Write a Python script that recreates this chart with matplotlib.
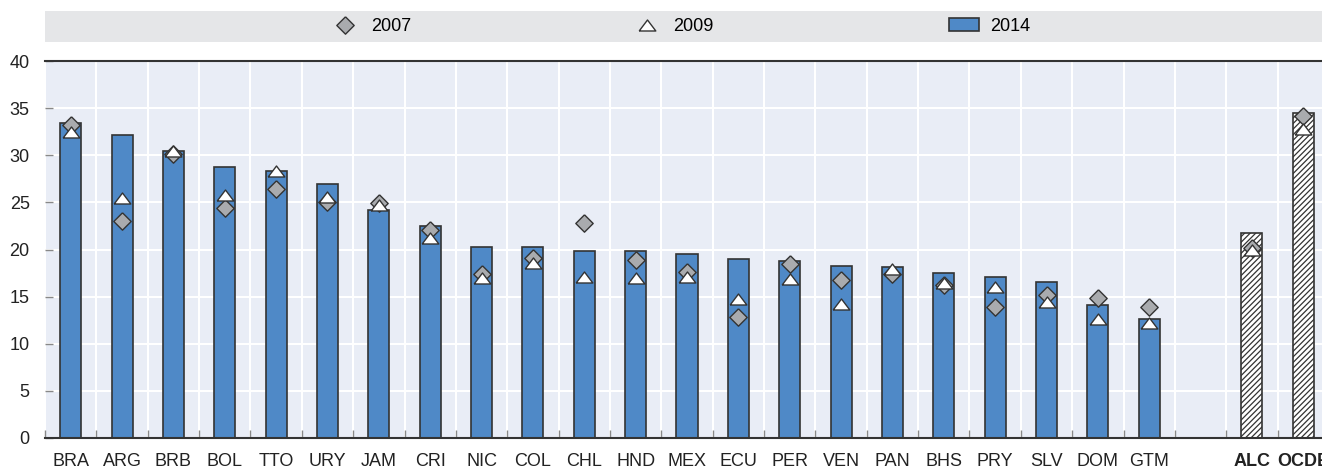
import matplotlib
matplotlib.use("Agg")
import matplotlib.pyplot as plt
import numpy as np
from matplotlib.lines import Line2D
from matplotlib.patches import Patch
from matplotlib.legend import Legend

plt.rcParams['font.family'] = ['Liberation Sans', 'DejaVu Sans']
plt.rcParams['hatch.linewidth'] = 0.9

# countries, then regional aggregates (drawn after an empty slot)
countries = ['BRA', 'ARG', 'BRB', 'BOL', 'TTO', 'URY', 'JAM', 'CRI', 'NIC', 'COL', 'CHL',
             'HND', 'MEX', 'ECU', 'PER', 'VEN', 'PAN', 'BHS', 'PRY', 'SLV', 'DOM', 'GTM']
v2014 = [33.4, 32.2, 30.4, 28.8, 28.3, 27.0, 24.2, 22.5, 20.3, 20.3, 19.8,
         19.8, 19.5, 19.0, 18.8, 18.2, 18.1, 17.5, 17.1, 16.5, 14.1, 12.6]
v2007 = [33.2, 23.0, 30.1, 24.4, 26.4, 25.0, 24.9, 22.1, 17.4, 19.1, 22.8,
         18.9, 17.6, 12.8, 18.5, 16.8, 17.4, 16.2, 13.9, 15.2, 14.9, 13.9]
v2009 = [32.5, 25.5, 30.4, 25.8, 28.3, 25.6, 24.7, 21.2, 17.0, 18.6, 17.1,
         17.0, 17.1, 14.8, 16.9, 14.2, 17.9, 16.4, 16.0, 14.4, 12.6, 12.2]

aggregates = ['ALC', 'OCDE']
agg2014 = [21.8, 34.5]
agg2007 = [20.2, 34.2]
agg2009 = [19.9, 32.8]

BLUE = '#4f89c7'
EDGE = '#333333'
GREY = '#a9abae'
FS = 13

fig = plt.figure(figsize=(13.22, 4.70), dpi=100)
ax = fig.add_axes([45/1322, 32/470, 1284/1322, 377/470])
band = fig.add_axes([45/1322, 428/470, 1284/1322, 31/470])

x_c = np.arange(len(countries))
x_a = len(countries) + 1 + np.arange(len(aggregates))

ax.set_facecolor('#e9edf6')
ax.bar(x_c, v2014, width=0.41, color=BLUE, edgecolor=EDGE, linewidth=1.2, zorder=3)
ax.bar(x_a, agg2014, width=0.41, color='white', edgecolor=EDGE, linewidth=1.2,
       hatch='//////', zorder=3)

diamond = [(0, 1), (1, 0), (0, -1), (-1, 0), (0, 1)]
tri = [(-1, -0.66), (1, -0.66), (0, 0.66), (-1, -0.66)]
allx = np.concatenate([x_c, x_a])
ax.plot(allx, v2007 + agg2007, ls='none', marker=diamond, ms=12.5, mfc=GREY,
        mec=EDGE, mew=1.0, zorder=4)
ax.plot(allx, v2009 + agg2009, ls='none', marker=tri, ms=12, mfc='white',
        mec=EDGE, mew=1.0, zorder=5)

ax.set_xlim(-0.5, len(countries) + len(aggregates) + 0.5)
ax.set_ylim(0, 40)
ax.set_yticks(np.arange(0, 41, 5))
ax.set_xticks(allx)
ax.set_xticklabels(countries + aggregates)
for lab in ax.get_xticklabels()[-len(aggregates):]:
    lab.set_fontweight('bold')
ax.set_xticks(np.arange(-0.5, len(countries) + len(aggregates) + 0.6, 1), minor=True)

ax.grid(True, axis='y', which='major', color='white', lw=1.5, zorder=1)
ax.grid(True, axis='x', which='minor', color='white', lw=1.5, zorder=1)
ax.tick_params(axis='x', which='major', length=0, pad=11, labelsize=FS, labelcolor='#222222')
ax.tick_params(axis='x', which='minor', direction='in', length=6, width=1, color='#888888')
ax.tick_params(axis='y', direction='in', length=6, width=1, color='#888888',
               pad=11, labelsize=FS, labelcolor='#222222')
for s in ['left', 'right']:
    ax.spines[s].set_visible(False)
for s in ['top', 'bottom']:
    ax.spines[s].set_color(EDGE)
    ax.spines[s].set_linewidth(1.5)
    ax.spines[s].set_zorder(6)

# legend band across the top
band.set_facecolor('#e5e6e8')
band.set_xticks([])
band.set_yticks([])
for s in band.spines.values():
    s.set_visible(False)
handles = [Line2D([], [], ls='none', marker=diamond, ms=12.5, mfc=GREY, mec=EDGE, mew=1.0),
           Line2D([], [], ls='none', marker=tri, ms=12, mfc='white', mec=EDGE, mew=1.0),
           Patch(facecolor=BLUE, edgecolor=EDGE, linewidth=1.2)]
labels = ['2007', '2009', '2014']
for h, lab, xc in zip(handles, labels, [0.2535, 0.4887, 0.7356]):
    leg = Legend(band, [h], [lab], loc='center', bbox_to_anchor=(xc, 0.5), frameon=False,
                 fontsize=FS, handlelength=1.7, handletextpad=0.6, handleheight=0.75,
                 borderpad=0, borderaxespad=0)
    band.add_artist(leg)

fig.savefig('out.png', dpi=100)
